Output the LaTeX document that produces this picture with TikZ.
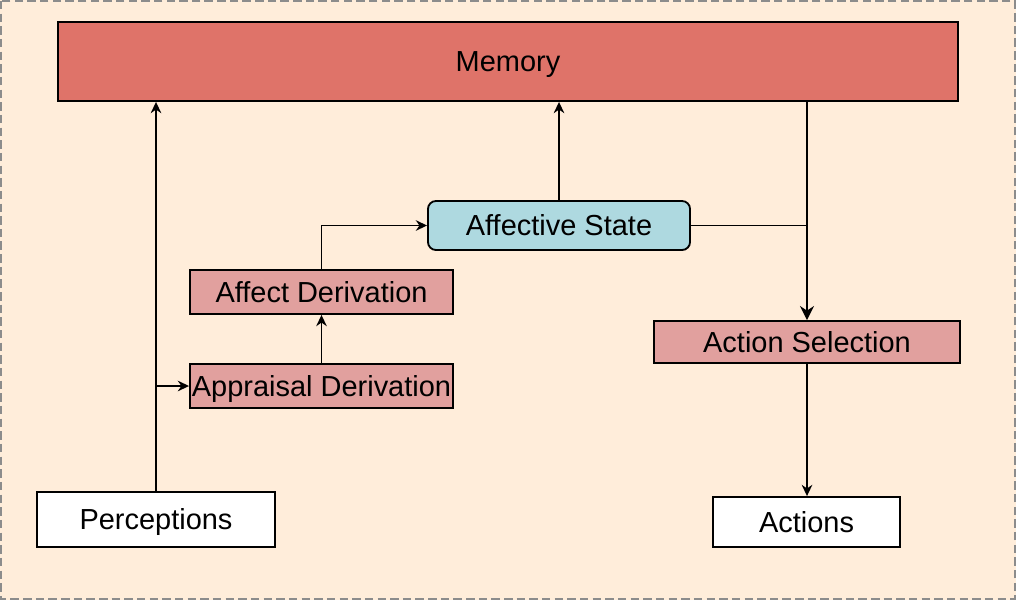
\documentclass[tikz,border=0pt]{standalone}
\usepackage{fontspec}
\setmainfont{Liberation Sans}
\usetikzlibrary{arrows.meta}

\definecolor{paper}{HTML}{FFEDDA}
\definecolor{memred}{HTML}{DF7369}
\definecolor{steppink}{HTML}{E1A09E}
\definecolor{statecyan}{HTML}{AED9E0}

\begin{document}
\begin{tikzpicture}[x=0.025cm, y=-0.025cm,
    box/.style={draw=black, line width=1.3pt, inner sep=0pt,
                text height=14.7pt, text depth=0pt,
                font=\fontsize{20.6}{24}\selectfont},
    flow/.style={line width=1.3pt, -{Stealth[length=8pt,width=7.5pt]}},
    bigflow/.style={line width=1.6pt, -{Stealth[length=10pt,width=10pt]}}]

    % Draw the background sheet
    \useasboundingbox (0,0) rectangle (1016,600);
    \fill[paper] (0,0) rectangle (1016,600);
    \draw[gray!90, line width=1.4pt, dash pattern=on 6pt off 3pt] (1,1) rectangle (1015,599);

    % Place the boxes
    \node[box, fill=memred, minimum width=22.5cm, minimum height=1.975cm] (memory) at (508,61.5) {Memory};
    \node[box, fill=statecyan, rounded corners=0.2cm, minimum width=6.55cm, minimum height=1.225cm] (state) at (559,225.5) {Affective State};
    \node[box, fill=steppink, minimum width=6.575cm, minimum height=1.1cm] (affect) at (321.5,292) {Affect Derivation};
    \node[box, fill=steppink, minimum width=6.575cm, minimum height=1.1cm] (appraisal) at (321.5,386) {Appraisal Derivation};
    \node[box, fill=steppink, minimum width=7.65cm, minimum height=1.05cm] (select) at (807,342) {Action Selection};
    \node[box, fill=white, minimum width=5.95cm, minimum height=1.375cm] (percept) at (156,519.5) {Perceptions};
    \node[box, fill=white, minimum width=4.675cm, minimum height=1.25cm] (actions) at (806.5,522) {Actions};

    % Helper points on the lines
    \coordinate (fork) at (156,386);
    \coordinate (join) at (807,226);

    % Draw the connectors
    \draw[flow] (percept.north) -- (memory.south -| percept.north);
    \draw[flow] (fork) -- (appraisal.west);
    \draw[flow] (appraisal.north) -- (affect.south);
    \draw[flow] (affect.north) |- (state.west);
    \draw[flow] (state.north) -- (memory.south -| state.north);
    \draw[bigflow] (memory.south -| select.north) -- (select.north);
    \draw[line width=1.3pt] (state.east) -- (state.east -| join);
    \draw[flow] (select.south) -- (actions.north -| select.south);
\end{tikzpicture}
\end{document}
